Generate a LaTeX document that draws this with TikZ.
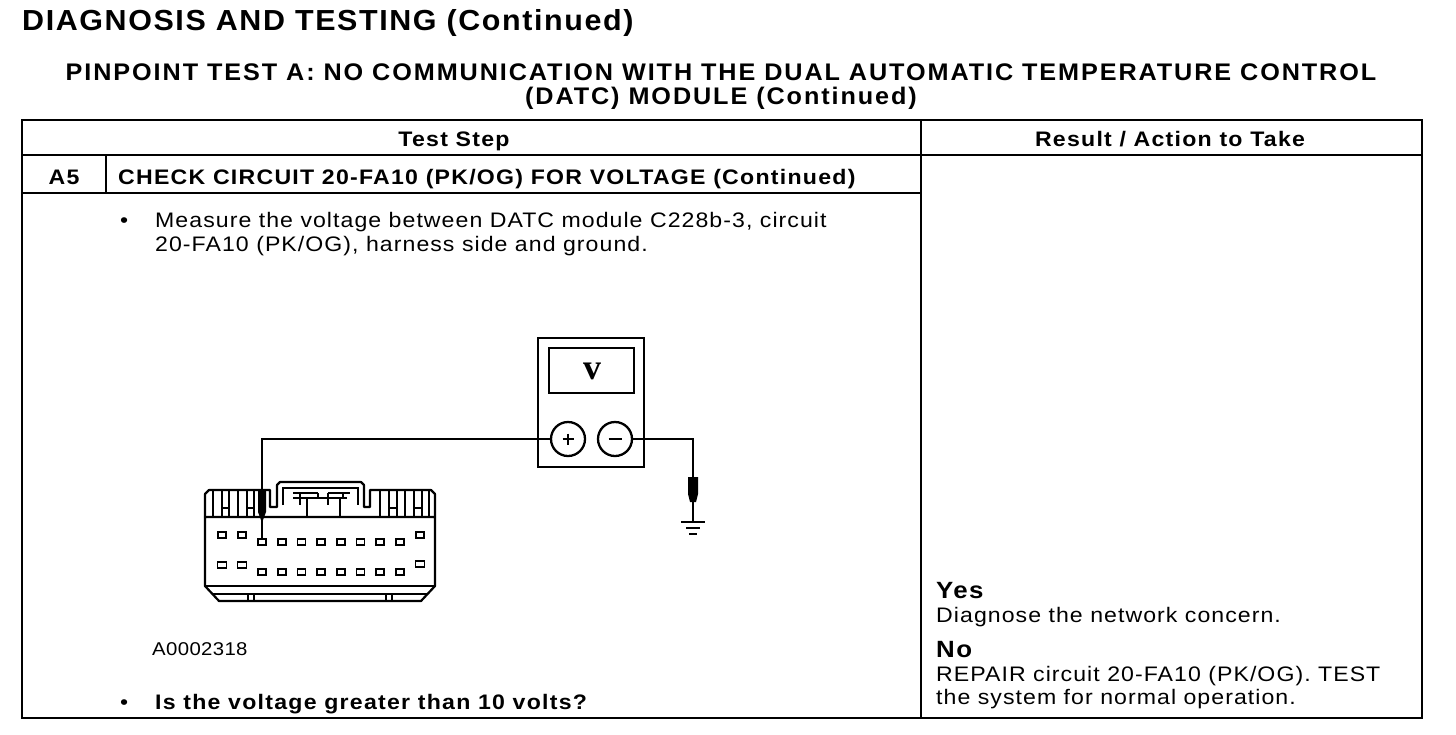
\documentclass[tikz,border=0pt]{standalone}
\usepackage{fontspec}
\setmainfont[FakeStretch=1.1, LetterSpace=5, BoldFeatures={LetterSpace=6}]{Liberation Sans}
\newfontfamily\titlefont[FakeStretch=1.05, LetterSpace=5.5]{Liberation Sans}
\newfontfamily\subfont[FakeStretch=1.05, LetterSpace=8]{Liberation Sans}
\newfontfamily\figfont[FakeStretch=1.1, LetterSpace=2]{Liberation Sans}
\newfontfamily\dispfont{Liberation Serif}
\usetikzlibrary{calc}
\tikzset{
	txt/.style={anchor=base west, inner sep=0pt, font=\fontsize{21}{23.5}\selectfont},
	btxt/.style={anchor=base west, inner sep=0pt, font=\bfseries\fontsize{21}{23.5}\selectfont},
	pin/.style={draw, line width=1.7pt, minimum width=8pt, minimum height=6pt, inner sep=0pt},
	term/.style={circle, draw, line width=2.3pt, minimum size=34pt, inner sep=0pt},
	sign/.style={line width=2.8pt},
	wire/.style={line width=2.4pt},
}
\begin{document}
\begin{tikzpicture}[x=1pt, y=-1pt]
		%%%%% START %%%%%
		\useasboundingbox (0,0) rectangle (1456,734);
		
		\node[anchor=base west, inner sep=0pt] (title) at (22,30) {\titlefont\bfseries\fontsize{29}{29}\selectfont DIAGNOSIS AND TESTING (Continued)};
		\node[anchor=base, inner sep=0pt] (subA) at (721,80) {\subfont\bfseries\fontsize{24}{24}\selectfont PINPOINT TEST A: NO COMMUNICATION WITH THE DUAL AUTOMATIC TEMPERATURE CONTROL};
		\node[anchor=base, inner sep=0pt] (subB) at (721,104) {\subfont\bfseries\fontsize{24}{24}\selectfont (DATC) MODULE (Continued)};
		
		% table
		\draw[line width=2pt] (22,120) rectangle (1422,718);
		\draw[line width=2pt] (22,155) -- (1422,155);
		\draw[line width=2pt] (921,120) -- (921,718);
		\draw[line width=2pt] (22,193) -- (921,193);
		\draw[line width=2pt] (106,155) -- (106,193);
		
		\node[btxt, anchor=base] (hstep) at (454,146) {Test Step};
		\node[btxt, anchor=base] (hresult) at (1170,146) {Result / Action to Take};
		\node[btxt, anchor=base] (step) at (64,184) {A5};
		\node[btxt] (check) at (118,184) {CHECK CIRCUIT 20-FA10 (PK/OG) FOR VOLTAGE (Continued)};
		
		\node[txt] (dotA) at (120,227) {•};
		\node[txt] (measA) at (155,227) {Measure the voltage between DATC module C228b-3, circuit};
		\node[txt] (measB) at (155,251) {20-FA10 (PK/OG), harness side and ground.};
		
		\node[txt, font=\figfont\fontsize{18.5}{20}\selectfont] (fig) at (152,655) {A0002318};
		\node[txt] (dotB) at (120,709) {•};
		\node[btxt] (ask) at (155,709) {Is the voltage greater than 10 volts?};
		
		\node[btxt, font=\bfseries\fontsize{23.5}{24}\selectfont] (yes) at (936,598) {Yes};
		\node[txt] (yesact) at (936,622) {Diagnose the network concern.};
		\node[btxt, font=\bfseries\fontsize{23.5}{24}\selectfont] (no) at (936,657) {No};
		\node[txt] (noactA) at (936,681) {REPAIR circuit 20-FA10 (PK/OG). TEST};
		\node[txt] (noactB) at (936,704) {the system for normal operation.};
		
		% meter
		\draw[line width=2.4pt] (538,338) rectangle (644,467);
		\draw[line width=2.4pt] (549,348) rectangle (634,393);
		\node[inner sep=0pt, font=\dispfont\bfseries\fontsize{36}{36}\selectfont] (disp) at (592,371) {v};
		\node[term] (plus) at (568,439) {};
		\node[term] (minus) at (615,439) {};
		\draw[sign] ($(plus)+(-5.5,0)$) -- ($(plus)+(5.5,0)$) ($(plus)+(0,-5.5)$) -- ($(plus)+(0,5.5)$);
		\draw[sign] ($(minus)+(-6.5,0)$) -- ($(minus)+(6.5,0)$);
		
		% connector C228b
		\draw[line width=2.2pt, line join=round] (205,517) -- (205,494) -- (209,490) -- (270,490) -- (270,507) -- (277,507) -- (277,485) -- (280,482) -- (361,482) -- (364,485) -- (364,507) -- (370,507) -- (370,490) -- (431,490) -- (435,494) -- (435,517);
		\draw[line width=1.8pt] (283,505) -- (283,488) -- (358,488) -- (358,505);
		\draw[line width=1.2pt] (293,498) -- (347,498);
		\draw[line width=1.2pt] (307,498) rectangle (340,517);
		\draw[line width=1.2pt] (300,493) -- (300,505) (318,493) -- (318,498) (328,493) -- (328,505) (343,493) -- (343,498);
		\draw[line width=1.2pt] (293,493) -- (318,493) (328,493) -- (350,493);
		\foreach \x in {213,222,229,238,247,254} \draw[line width=1.6pt] (\x,490) -- (\x,517);
		\foreach \x in {380,389,397,405,414,422,429} \draw[line width=1.6pt] (\x,490) -- (\x,517);
		\draw[line width=1.4pt] (222,508) -- (229,508) (247,508) -- (254,508) (389,508) -- (397,508) (414,508) -- (422,508);
		\draw[line width=2.2pt, line join=round] (205,517) -- (435,517) -- (435,586) -- (421,601) -- (219,601) -- (205,586) -- cycle;
		\draw[line width=1.4pt] (205,586) -- (435,586);
		\draw[line width=1.2pt] (212,594) -- (428,594);
		\draw[line width=1.4pt] (248,594) rectangle (254,601);
		\draw[line width=1.4pt] (386,594) rectangle (392,601);
		
		\node[pin] (pa1) at (222,535) {};
		\node[pin] (pa2) at (242,535) {};
		\foreach \i in {0,...,7} \node[pin] (pb\i) at ({262+19.7*\i},542) {};
		\node[pin] (pa3) at (420,535) {};
		\node[pin, minimum width=9pt] (pc1) at (222,565) {};
		\node[pin, minimum width=9pt] (pc2) at (242,565) {};
		\foreach \i in {0,...,7} \node[pin] (pd\i) at ({262+19.7*\i},572) {};
		\node[pin, minimum width=9pt] (pc3) at (420,564) {};
		
		% leads
		\draw[wire] (plus.west) -| (pb0.north);
		\fill (258,490) -- (266,490) -- (266,512) -- (263,520) -- (261,520) -- (258,512) -- cycle;
		
		\coordinate (gnd) at (693,522);
		\draw[wire] (minus.east) -| (gnd);
		\fill (688,477) -- (698,477) -- (698,494) -- (696,502) -- (690,502) -- (688,494) -- cycle;
		\draw[line width=2.2pt] ($(gnd)+(-12,0)$) -- ($(gnd)+(12,0)$);
		\draw[line width=2.2pt] ($(gnd)+(-7,6)$) -- ($(gnd)+(7,6)$);
		\draw[line width=2.2pt] ($(gnd)+(-4,12)$) -- ($(gnd)+(4,12)$);
		
		%%%%% END %%%%%
\end{tikzpicture}
\end{document}
